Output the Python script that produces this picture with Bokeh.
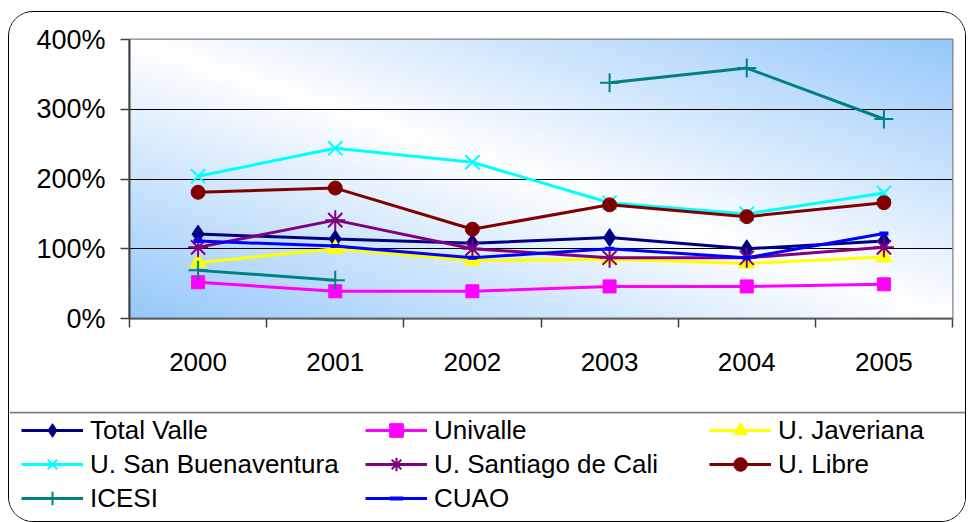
import numpy as np
from bokeh.plotting import figure
from bokeh.layouts import column
from bokeh.models import (FixedTicker, PrintfTickFormatter, Legend, LegendItem,
                          BoxAnnotation, Range1d)
from bokeh.embed import file_html
from bokeh.resources import INLINE

nan = float("nan")
years = [2000, 2001, 2002, 2003, 2004, 2005]
y_ticks = [0, 100, 200, 300, 400]

total_valle = [121, 114, 108, 116, 100, 111]
univalle = [52, 39, 39, 46, 46, 49]
javeriana = [80, 100, 83, 85, 79, 88]
san_buenaventura = [204, 244, 224, 166, 150, 180]
santiago_cali = [102, 141, 100, 87, 87, 102]
libre = [181, 187, 128, 163, 146, 166]
icesi = [69, 55, nan, 338, 359, 286]
cuao = [111, 104, 87, 100, 87, 122]

series = [
    ("Total Valle", total_valle, "#000080", "diamond", 18),
    ("Univalle", univalle, "#FF00FF", "square", 13),
    ("U. Javeriana", javeriana, "#FFFF00", "triangle", 16),
    ("U. San Buenaventura", san_buenaventura, "#00FFFF", "x", 20),
    ("U. Santiago de Cali", santiago_cali, "#800080", "asterisk", 20),
    ("U. Libre", libre, "#800000", "circle", 14),
    ("ICESI", icesi, "#008080", "cross", 19),
    ("CUAO", cuao, "#0000FF", "dash", 9),
]

FONT = "Liberation Sans"

p = figure(width=956, height=399, output_backend="svg", toolbar_location=None,
           x_range=Range1d(years[0] - 0.5, years[-1] + 0.5),
           y_range=Range1d(y_ticks[0], y_ticks[-1]),
           min_border_left=120, min_border_right=13,
           min_border_top=27, min_border_bottom=93)
p.frame_align = False
p.background_fill_color = "white"
p.border_fill_color = "white"
p.outline_line_color = "#808080"
p.outline_line_width = 2

# gradient background of the plot area
H, W = 140, 400
u = np.linspace(0, 1, W)[None, :]
v = 1 - np.linspace(0, 1, H)[:, None]  # from top
t = np.clip(np.abs(u - v), 0, 1) ** 1.0
blue = np.array([150, 200, 250])
img = np.empty((H, W), dtype=np.uint32)
view = img.view(dtype=np.uint8).reshape((H, W, 4))
for k in range(3):
    view[:, :, k] = (255 * (1 - t) + blue[k] * t).astype(np.uint8)
view[:, :, 3] = 255
p.image_rgba(image=[img], x=years[0] - 0.5, y=y_ticks[0],
             dw=len(years), dh=y_ticks[-1] - y_ticks[0], level="image")

# grid
p.xgrid.visible = False
p.ygrid.ticker = FixedTicker(ticks=y_ticks)
p.ygrid.grid_line_color = "black"
p.ygrid.grid_line_width = 1

# axes
p.yaxis.ticker = FixedTicker(ticks=y_ticks)
p.yaxis.formatter = PrintfTickFormatter(format="%d%%")
p.yaxis.major_label_text_font = FONT
p.yaxis.major_label_text_font_size = "27px"
p.yaxis.major_label_text_color = "black"
p.yaxis.major_tick_out = 9
p.yaxis.major_tick_in = 0
p.yaxis.major_tick_line_color = "#404040"
p.yaxis.major_tick_line_width = 1.5
p.yaxis.minor_tick_line_color = None
p.yaxis.axis_line_color = "#404040"
p.yaxis.axis_line_width = 2
p.yaxis.major_label_standoff = 15

p.xaxis.ticker = FixedTicker(ticks=years,
                             minor_ticks=[yr - 0.5 for yr in years] + [years[-1] + 0.5])
p.xaxis.major_tick_in = 0
p.xaxis.major_tick_out = 0
p.xaxis.minor_tick_in = 0
p.xaxis.minor_tick_out = 9
p.xaxis.minor_tick_line_color = "#404040"
p.xaxis.minor_tick_line_width = 1.5
p.xaxis.axis_line_color = "#606060"
p.xaxis.axis_line_width = 2
p.xaxis.major_label_text_font = FONT
p.xaxis.major_label_text_font_size = "26px"
p.xaxis.major_label_text_color = "black"
p.xaxis.major_label_standoff = 25


def draw(fig, xs, vals, color, marker, size):
    r1 = fig.line(xs, vals, line_color=color, line_width=3)
    if marker in ("x", "asterisk", "cross", "dash"):
        r2 = fig.scatter(xs, vals, marker=marker, size=size, line_color=color,
                         line_width=4 if marker == "dash" else 2)
    else:
        r2 = fig.scatter(xs, vals, marker=marker, size=size, fill_color=color,
                         line_color=color)
    return r1, r2


for name, vals, color, marker, size in series:
    draw(p, years, vals, color, marker, size)

# legend panel (its ranges keep the series out of view; only the legend shows)
pl = figure(width=956, height=110, output_backend="svg", toolbar_location=None,
            x_axis_type=None, y_axis_type=None, min_border=0,
            x_range=Range1d(0, 1), y_range=Range1d(-2, -1))
pl.frame_align = False
pl.outline_line_color = None
pl.background_fill_color = "white"
pl.border_fill_color = "white"
pl.xgrid.visible = False
pl.ygrid.visible = False

items = []
for name, vals, color, marker, size in series:
    r1, r2 = draw(pl, years, vals, color, marker, size)
    items.append(LegendItem(label=name, renderers=[r1, r2]))

legend = Legend(items=items, orientation="horizontal", ncols=3,
                location=(12, 6), glyph_width=62, glyph_height=34,
                label_standoff=7, label_width=275, label_height=34, spacing=0,
                padding=0, margin=0, border_line_color=None,
                background_fill_alpha=0, label_text_font=FONT,
                label_text_font_size="26px", label_text_color="black")
pl.add_layout(legend, "center")

pl.add_layout(BoxAnnotation(left=0, right=956, top=0, bottom=2,
                            left_units="canvas", right_units="canvas",
                            top_units="canvas", bottom_units="canvas",
                            fill_color="#808080", fill_alpha=1, line_color=None))

layout = column(p, pl, spacing=0,
                styles={"border": "1.5px solid black", "border-radius": "25px",
                        "overflow": "hidden", "margin-left": "8px",
                        "margin-top": "11px", "background-color": "white"})

open("out.html", "w").write(file_html(layout, INLINE))
